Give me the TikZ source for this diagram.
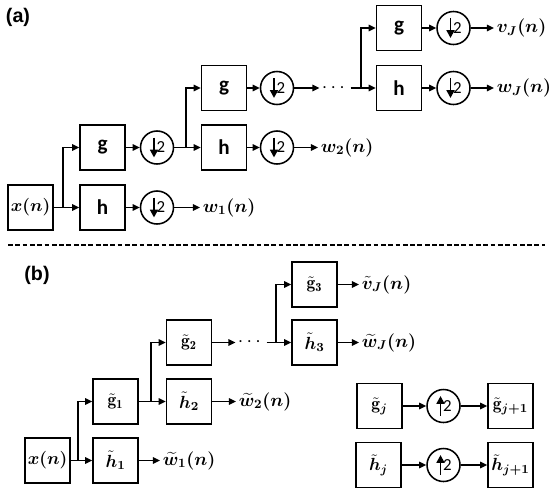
\RequirePackage{fix-cm}
\documentclass[tikz,border=0pt]{standalone}
\usepackage{amsmath}
\usepackage{bm}
\usepackage{fontspec}
\setsansfont{Carlito}
\newfontfamily\tagfont{Liberation Sans}
\usetikzlibrary{arrows.meta,positioning}

\tikzset{
  blk/.style={draw,line width=1.1pt,minimum size=1.125cm,inner sep=0pt,font=\fontsize{12.5}{15}\selectfont},
  gh/.style={blk,font=\sffamily\bfseries\fontsize{15}{18}\selectfont},
  rate/.style={draw,circle,line width=1.1pt,minimum size=0.825cm,inner sep=0pt,font=\sffamily\fontsize{12}{14}\selectfont},
  sig/.style={-{Triangle[length=5pt,width=4.6pt]},line width=1.1pt},
  tip/.style={-{Triangle[length=5.6pt,width=5.6pt]},line width=1.4pt},
  lbl/.style={anchor=west,inner sep=1.8pt,font=\fontsize{13}{15}\selectfont},
  dots/.style={inner sep=1.5pt,font=\fontsize{14}{16}\selectfont},
  tag/.style={font=\tagfont\bfseries\fontsize{14}{16}\selectfont},
  sep/.style={line width=1.1pt,dash pattern=on 3.4pt off 1.8pt}
}

\begin{document}
\begin{tikzpicture}[x=0.025cm,y=-0.025cm]
\useasboundingbox (0,0) rectangle (550,494);

% (a) analysis tree
\node[tag] (taga) at (18,17) {(a)};
\node[blk] (xa) at (30.5,207.5) {$\bm{x(n)}$};
\coordinate (s1) at (63,207.5);
\node[gh] (g1) at (102.5,147.5) {g};
\node[gh] (h1) at (102.5,207.5) {h};
\node[rate] (d1g) at (157,147.5) {\hspace{2mm}2};
\node[rate] (d1h) at (157,207.5) {\hspace{2mm}2};
\node[lbl] (w1) at (200,207.5) {$\bm{w_1(n)}$};
\coordinate (s2) at (186,147.5);
\node[gh] (g2) at (224,88) {g};
\node[gh] (h2) at (224,147.5) {h};
\node[rate] (d2g) at (277,88) {\hspace{2mm}2};
\node[rate] (d2h) at (277,147.5) {\hspace{2mm}2};
\node[lbl] (w2) at (318,147.5) {$\bm{w_2(n)}$};
\node[dots] (da) at (335,88) {$\cdots$};
\coordinate (s3) at (361,88);
\node[gh] (g3) at (399,28) {g};
\node[gh] (h3) at (399,88) {h};
\node[rate] (d3g) at (453.5,28) {\hspace{2mm}2};
\node[rate] (d3h) at (453.5,88) {\hspace{2mm}2};
\node[lbl] (vJ) at (494,28) {$\bm{v_J(n)}$};
\node[lbl] (wJ) at (494,88) {$\bm{w_J(n)}$};

\foreach \c in {d1g,d1h,d2g,d2h,d3g,d3h}
  \draw[tip] ([shift={(-3,-10)}]\c.center) -- ++(0,20);

\draw[sig] (xa) -- (h1);
\draw[sig] (s1) |- (g1);
\draw[sig] (h1) -- (d1h);
\draw[sig] (d1h) -- (w1);
\draw[sig] (g1) -- (d1g);
\draw[sig] (d1g) -- (h2);
\draw[sig] (s2) |- (g2);
\draw[sig] (h2) -- (d2h);
\draw[sig] (d2h) -- (w2);
\draw[sig] (g2) -- (d2g);
\draw[sig] (d2g) -- (da);
\draw[sig] (da) -- (s3) |- (g3);
\draw[sig] (s3) -- (h3);
\draw[sig] (g3) -- (d3g);
\draw[sig] (d3g) -- (vJ);
\draw[sig] (h3) -- (d3h);
\draw[sig] (d3h) -- (wJ);

% separator
\coordinate (dl) at (8,245);
\coordinate (dr) at (545,245);
\draw[sep] (dl) -- (dr);

% (b) synthesis filters
\node[tag] (tagb) at (37,275) {(b)};
\node[blk] (xb) at (47.5,460.5) {$\bm{x(n)}$};
\coordinate (t1) at (78,460.5);
\node[blk] (gt1) at (115.5,401.5) {$\tilde{\mathbf g}_{\mathbf 1}$};
\node[blk] (ht1) at (115.5,460.5) {$\bm{\tilde h_1}$};
\node[lbl] (wt1) at (160,460.5) {$\bm{\widetilde w_1(n)}$};
\coordinate (t2) at (151,401.5);
\node[blk] (gt2) at (189,342.5) {$\tilde{\mathbf g}_{\mathbf 2}$};
\node[blk] (ht2) at (189,401.5) {$\bm{\tilde h_2}$};
\node[lbl] (wt2) at (236,401.5) {$\bm{\widetilde w_2(n)}$};
\node[dots] (db) at (251,342.5) {$\cdots$};
\coordinate (t3) at (276,342.5);
\node[blk] (gt3) at (314.5,284.5) {$\tilde{\mathbf g}_{\mathbf 3}$};
\node[blk] (ht3) at (314.5,342.5) {$\bm{\tilde h_3}$};
\node[lbl] (vtJ) at (359,284.5) {$\bm{\tilde v_J(n)}$};
\node[lbl] (wtJ) at (359,342.5) {$\bm{\widetilde w_J(n)}$};

\draw[sig] (xb) -- (ht1);
\draw[sig] (t1) |- (gt1);
\draw[sig] (ht1) -- (wt1);
\draw[sig] (gt1) -- (ht2);
\draw[sig] (t2) |- (gt2);
\draw[sig,line width=0.8pt] (ht2) -- (wt2);
\draw[sig] (gt2) -- (db);
\draw[sig] (db) -- (t3) |- (gt3);
\draw[sig] (t3) -- (ht3);
\draw[sig] (gt3) -- (vtJ);
\draw[sig] (ht3) -- (wtJ);

% upsampled filters
\node[blk] (gtj) at (379.5,406) {$\tilde{\mathbf g}_{\bm j}$};
\node[rate] (u1) at (443.5,406) {\hspace{2mm}2};
\node[blk] (gtj1) at (510.5,406) {$\tilde{\mathbf g}_{\bm{j+1}}$};
\node[blk] (htj) at (378.5,465) {$\bm{\tilde h_j}$};
\node[rate] (u2) at (443.5,465) {\hspace{2mm}2};
\node[blk] (htj1) at (510.5,465) {$\bm{\tilde h_{j+1}}$};

\foreach \c in {u1,u2}
  \draw[tip] ([shift={(-3,10)}]\c.center) -- ++(0,-20);

\draw[sig] (gtj) -- (u1);
\draw[sig] (u1) -- (gtj1);
\draw[sig] (htj) -- (u2);
\draw[sig] (u2) -- (htj1);
\end{tikzpicture}
\end{document}
